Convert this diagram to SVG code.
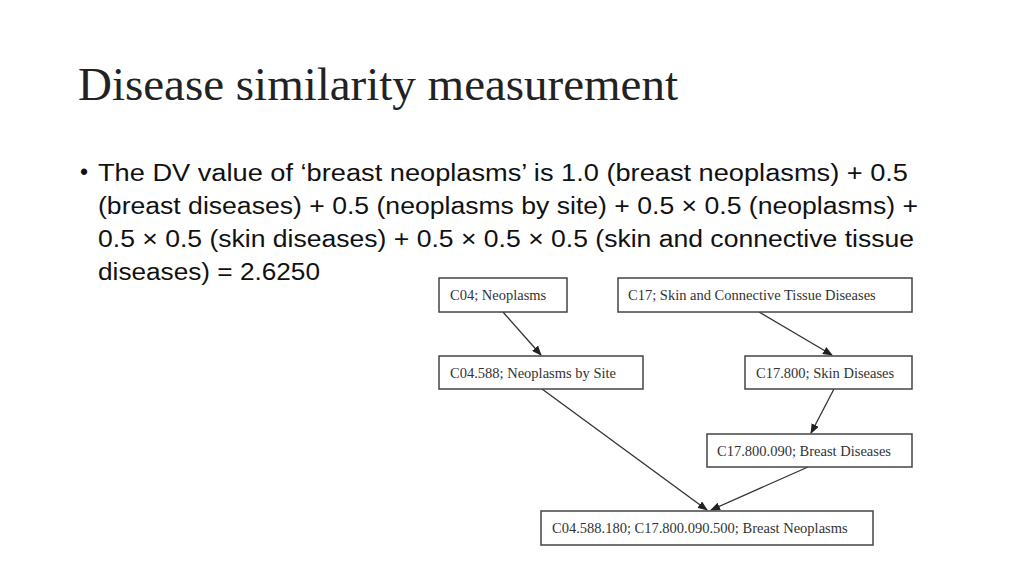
<svg xmlns="http://www.w3.org/2000/svg" width="1024" height="576" viewBox="0 0 1024 576">
<style>
.t{font-family:"Liberation Serif",serif;font-size:46px;fill:#222}
.b{font-family:"Liberation Sans",sans-serif;font-size:23px;fill:#111}
.n rect{fill:#fff;stroke:#444;stroke-width:1.5}
.n text{font-family:"Liberation Serif",serif;font-size:14.5px;fill:#333}
.c line{stroke:#333;stroke-width:1.3;marker-end:url(#a)}
</style>
<defs><marker id="a" markerWidth="10" markerHeight="8" refX="9" refY="4" orient="auto" markerUnits="userSpaceOnUse"><path d="M0,0L10,4L0,8z" fill="#222"/></marker></defs>
<rect width="1024" height="576" fill="#fff"/>
<text class="t" x="78" y="100" textLength="600" lengthAdjust="spacingAndGlyphs">Disease similarity measurement</text>
<text class="b" x="80" y="180">•</text>
<text class="b" x="98" y="181" textLength="810" lengthAdjust="spacingAndGlyphs">The DV value of ‘breast neoplasms’ is 1.0 (breast neoplasms) + 0.5</text>
<text class="b" x="98" y="214" textLength="820" lengthAdjust="spacingAndGlyphs">(breast diseases) + 0.5 (neoplasms by site) + 0.5 × 0.5 (neoplasms) +</text>
<text class="b" x="98" y="247" textLength="816" lengthAdjust="spacingAndGlyphs">0.5 × 0.5 (skin diseases) + 0.5 × 0.5 × 0.5 (skin and connective tissue</text>
<text class="b" x="98" y="280" textLength="222" lengthAdjust="spacingAndGlyphs">diseases) = 2.6250</text>
<g class="c">
<line x1="503" y1="312" x2="541" y2="355"/>
<line x1="759" y1="312" x2="832" y2="355"/>
<line x1="542" y1="389" x2="707" y2="510"/>
<line x1="834" y1="389" x2="811" y2="433"/>
<line x1="808" y1="467" x2="711" y2="510"/>
</g>
<g id="n1" class="n"><rect x="439" y="278" width="128" height="34"/><text x="450" y="300">C04; Neoplasms</text></g>
<g id="n2" class="n"><rect x="618" y="278" width="294" height="34"/><text x="628" y="300">C17; Skin and Connective Tissue Diseases</text></g>
<g id="n3" class="n"><rect x="439" y="356" width="204" height="33"/><text x="450" y="378">C04.588; Neoplasms by Site</text></g>
<g id="n4" class="n"><rect x="745" y="356" width="167" height="33"/><text x="756" y="378">C17.800; Skin Diseases</text></g>
<g id="n5" class="n"><rect x="707" y="434" width="205" height="33"/><text x="717" y="456">C17.800.090; Breast Diseases</text></g>
<g id="n6" class="n"><rect x="541" y="511" width="332" height="34"/><text x="552" y="533">C04.588.180; C17.800.090.500; Breast Neoplasms</text></g>
</svg>
